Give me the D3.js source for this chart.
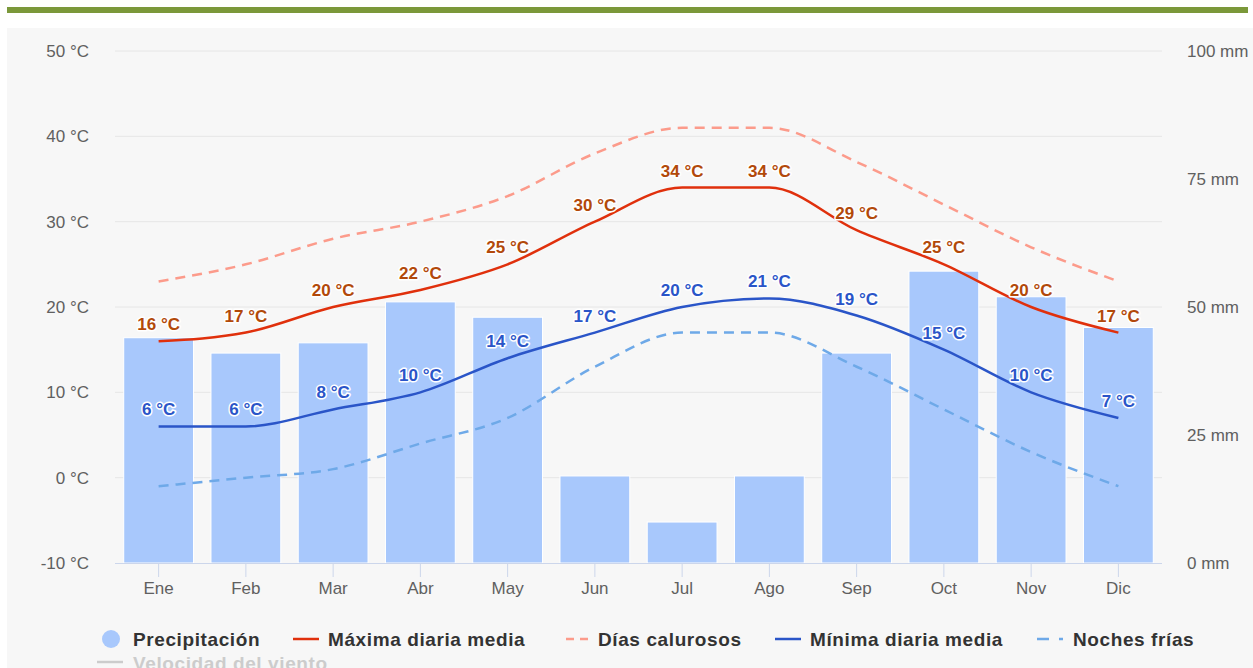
<!DOCTYPE html>
<html>
<head>
<meta charset="utf-8">
<script src="https://cdn.jsdelivr.net/npm/d3@7"></script>
<style>
  body { margin: 0; background: #ffffff; font-family: "Liberation Sans", Arial, sans-serif; }
  svg { display: block; }
  .axis-label { font-size: 17px; fill: #606060; }
  .legend-text { font-size: 19px; font-weight: bold; fill: #333333; letter-spacing: 0.6px; }
  .val { font-size: 17px; font-weight: bold; paint-order: stroke; stroke: #ffffff; stroke-width: 3px; stroke-linejoin: round; }
</style>
</head>
<body>
<svg id="chart" width="1253" height="668"></svg>
<script>
var months = ["Ene", "Feb", "Mar", "Abr", "May", "Jun", "Jul", "Ago", "Sep", "Oct", "Nov", "Dic"];
var precipitation = [44, 41, 43, 51, 48, 17, 8, 17, 41, 57, 52, 46];
var maxTemp = [16, 17, 20, 22, 25, 30, 34, 34, 29, 25, 20, 17];
var hotDays = [23, 25, 28, 30, 33, 38, 41, 41, 37, 32, 27, 23];
var minTemp = [6, 6, 8, 10, 14, 17, 20, 21, 19, 15, 10, 7];
var coldNights = [-1, 0, 1, 4, 7, 13, 17, 17, 13, 8, 3, -1];
var tempTicks = [-10, 0, 10, 20, 30, 40, 50];
var mmTicks = [0, 25, 50, 75, 100];

var svg = d3.select("#chart");
var width = 1253;
var plotLeft = 115, plotRight = 1162, plotTop = 51, plotBottom = 563;

// page frame
svg.append("rect").attr("x", 7).attr("y", 7).attr("width", 1241).attr("height", 6).attr("fill", "#7b983a");
svg.append("rect").attr("x", 7).attr("y", 28).attr("width", width - 7).attr("height", 640).attr("fill", "#f7f7f7");

var x = d3.scaleBand().domain(months).range([plotLeft, plotRight]).paddingInner(0.2).paddingOuter(0.1);
var yTemp = d3.scaleLinear().domain([-10, 50]).range([plotBottom, plotTop]);
var yMm = d3.scaleLinear().domain([0, 100]).range([plotBottom, plotTop]);

function cx(d, i) { return x(months[i]) + x.bandwidth() / 2; }

// grid lines
svg.append("g").selectAll("line")
  .data(tempTicks.slice(1))
  .enter()
  .append("line")
    .attr("x1", plotLeft).attr("x2", plotRight)
    .attr("y1", function(d) { return yTemp(d); })
    .attr("y2", function(d) { return yTemp(d); })
    .attr("stroke", "#e6e6e6").attr("stroke-width", 1);

// left axis labels
svg.append("g").selectAll("text")
  .data(tempTicks)
  .enter()
  .append("text")
    .attr("class", "axis-label")
    .attr("x", 89)
    .attr("y", function(d) { return yTemp(d) + 6; })
    .attr("text-anchor", "end")
    .text(function(d) { return d + " °C"; });

// right axis labels
svg.append("g").selectAll("text")
  .data(mmTicks)
  .enter()
  .append("text")
    .attr("class", "axis-label")
    .attr("x", 1187)
    .attr("y", function(d) { return yMm(d) + 6; })
    .text(function(d) { return d + " mm"; });

// precipitation bars
svg.append("g").selectAll("rect")
  .data(precipitation)
  .enter()
  .append("rect")
    .attr("x", function(d, i) { return x(months[i]); })
    .attr("width", x.bandwidth())
    .attr("y", function(d) { return yMm(d); })
    .attr("height", function(d) { return plotBottom - yMm(d); })
    .attr("fill", "#a8c8fc")
    .attr("stroke", "#ffffff").attr("stroke-width", 1);

// x axis
svg.append("line")
  .attr("x1", plotLeft).attr("x2", plotRight).attr("y1", plotBottom + 0.5).attr("y2", plotBottom + 0.5)
  .attr("stroke", "#ccd6eb");

svg.append("g").selectAll("line")
  .data(months)
  .enter()
  .append("line")
    .attr("x1", function(d) { return x(d) + x.bandwidth() / 2; })
    .attr("x2", function(d) { return x(d) + x.bandwidth() / 2; })
    .attr("y1", plotBottom).attr("y2", plotBottom + 14)
    .attr("stroke", "#ccd6eb");

svg.append("g").selectAll("text")
  .data(months)
  .enter()
  .append("text")
    .attr("class", "axis-label")
    .attr("x", function(d) { return x(d) + x.bandwidth() / 2; })
    .attr("y", 594)
    .attr("text-anchor", "middle")
    .text(function(d) { return d; });

// temperature lines
function line(values) {
  return d3.line()
    .x(cx)
    .y(function(d) { return yTemp(d); })
    .curve(d3.curveMonotoneX)(values);
}

svg.append("path").attr("d", line(coldNights))
  .attr("fill", "none").attr("stroke", "#6ea9e8").attr("stroke-width", 2.5).attr("stroke-dasharray", "10,7");
svg.append("path").attr("d", line(hotDays))
  .attr("fill", "none").attr("stroke", "#fc9b8b").attr("stroke-width", 2.5).attr("stroke-dasharray", "10,7");
svg.append("path").attr("d", line(minTemp))
  .attr("fill", "none").attr("stroke", "#2a55c8").attr("stroke-width", 2.5);
svg.append("path").attr("d", line(maxTemp))
  .attr("fill", "none").attr("stroke", "#e0300c").attr("stroke-width", 2.5);

// value labels
svg.append("g").selectAll("text")
  .data(maxTemp)
  .enter()
  .append("text")
    .attr("class", "val")
    .attr("x", cx)
    .attr("y", function(d) { return yTemp(d) - 11; })
    .attr("text-anchor", "middle")
    .attr("fill", "#b2490a")
    .text(function(d) { return d + " °C"; });

svg.append("g").selectAll("text")
  .data(minTemp)
  .enter()
  .append("text")
    .attr("class", "val")
    .attr("x", cx)
    .attr("y", function(d) { return yTemp(d) - 11; })
    .attr("text-anchor", "middle")
    .attr("fill", "#2a55c8")
    .text(function(d) { return d + " °C"; });

// legend
var legend = svg.append("g");
legend.append("circle").attr("cx", 111).attr("cy", 639).attr("r", 9).attr("fill", "#a8c8fc");
legend.append("text").attr("class", "legend-text").attr("x", 133).attr("y", 646).text("Precipitación");

legend.append("line").attr("x1", 293).attr("x2", 319).attr("y1", 639).attr("y2", 639)
  .attr("stroke", "#e0300c").attr("stroke-width", 2.5);
legend.append("text").attr("class", "legend-text").attr("x", 328).attr("y", 646).text("Máxima diaria media");

legend.append("line").attr("x1", 566).attr("x2", 592).attr("y1", 639).attr("y2", 639)
  .attr("stroke", "#fc9b8b").attr("stroke-width", 2.5).attr("stroke-dasharray", "8,6");
legend.append("text").attr("class", "legend-text").attr("x", 598).attr("y", 646).text("Días calurosos");

legend.append("line").attr("x1", 775).attr("x2", 801).attr("y1", 639).attr("y2", 639)
  .attr("stroke", "#2a55c8").attr("stroke-width", 2.5);
legend.append("text").attr("class", "legend-text").attr("x", 810).attr("y", 646).text("Mínima diaria media");

legend.append("line").attr("x1", 1037).attr("x2", 1063).attr("y1", 639).attr("y2", 639)
  .attr("stroke", "#6ea9e8").attr("stroke-width", 2.5).attr("stroke-dasharray", "12,10");
legend.append("text").attr("class", "legend-text").attr("x", 1073).attr("y", 646).text("Noches frías");

legend.append("line").attr("x1", 97).attr("x2", 123).attr("y1", 662).attr("y2", 662)
  .attr("stroke", "#cccccc").attr("stroke-width", 2.5);
legend.append("text").attr("class", "legend-text").attr("x", 133).attr("y", 670)
  .style("fill", "#cccccc").text("Velocidad del viento");
</script>
</body>
</html>
